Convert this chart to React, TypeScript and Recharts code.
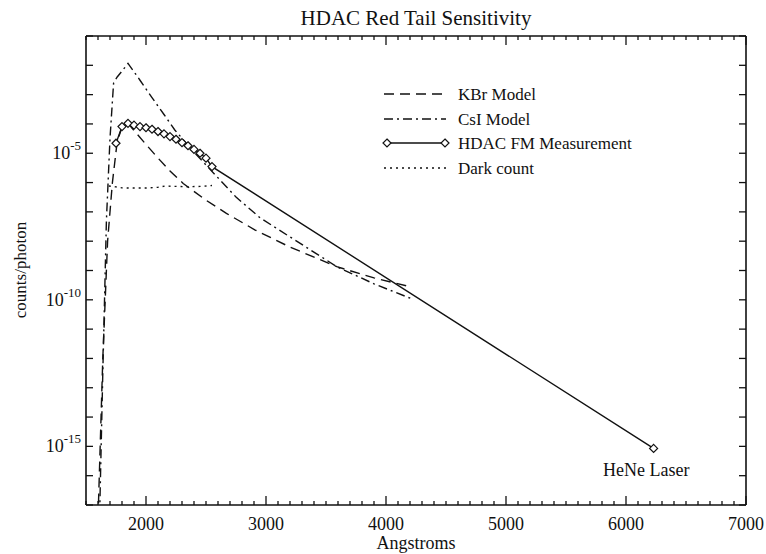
import { LineChart, Line, XAxis, YAxis } from 'recharts'

const FONT = '"Liberation Serif", "Times New Roman", serif'

// wavelength (Angstroms) and counts/photon for each series
const KBR_X = [1600, 1640, 1680, 1720, 1760, 1800, 1850, 1920, 2000, 2090, 2200, 2310, 2500, 2670, 2910, 3200, 3590, 3900, 4200]
const KBR_Y = [3.2e-18, 1e-12, 1e-8, 1e-6, 2.5e-5, 7.9e-5, 1.05e-4, 4.8e-5, 2.0e-5, 7.6e-6, 2.5e-6, 9.3e-7, 2.5e-7, 8.9e-8, 2.4e-8, 6.3e-9, 1.35e-9, 5.6e-10, 2.8e-10]

const CSI_X = [1610, 1640, 1670, 1700, 1730, 1760, 1800, 1850, 1950, 2050, 2150, 2240, 2400, 2590, 2750, 2950, 3200, 3590, 3900, 4210]
const CSI_Y = [1e-18, 3.2e-13, 5e-8, 3.2e-5, 2.5e-3, 4e-3, 6.3e-3, 1.17e-2, 3.1e-3, 7.9e-4, 2.1e-4, 6.2e-5, 1.1e-5, 1.6e-6, 3.2e-7, 6.3e-8, 1.4e-8, 1.35e-9, 3.5e-10, 1.1e-10]

const MEAS_X = [1750, 1800, 1850, 1900, 1950, 2000, 2050, 2100, 2150, 2200, 2250, 2300, 2350, 2400, 2450, 2500, 2550, 6230]
const MEAS_Y = [2.2e-5, 8.1e-5, 1.05e-4, 9.1e-5, 8.1e-5, 7.4e-5, 6.6e-5, 5.5e-5, 4.6e-5, 3.7e-5, 3.0e-5, 2.3e-5, 1.8e-5, 1.35e-5, 1.0e-5, 6.8e-6, 3.5e-6, 8.5e-16]

const DARK_X = [1690, 1750, 1800, 1900, 2000, 2100, 2160, 2250, 2350, 2450, 2550]
const DARK_Y = [7.6e-7, 7.1e-7, 6.6e-7, 6.5e-7, 6.5e-7, 6.9e-7, 7.6e-7, 7.4e-7, 7.2e-7, 7.4e-7, 7.9e-7]

const X_MAJOR = [2000, 3000, 4000, 5000, 6000, 7000]
const Y_LABELED = [-5, -10, -15]

const X_TICKS: number[] = []
for (let v = 1500; v <= 7000; v += 100) X_TICKS.push(v)
const Y_TICKS: number[] = []
for (let e = -17; e <= -1; e++) Y_TICKS.push(Math.pow(10, e))

const pts = (xs: number[], ys: number[]) => xs.map((x, i) => ({ x, y: ys[i] }))

const kbr = pts(KBR_X, KBR_Y)
const csi = pts(CSI_X, CSI_Y)
const meas = pts(MEAS_X, MEAS_Y)
const dark = pts(DARK_X, DARK_Y)

const INK = '#111'

function BottomTick({ x, y, payload }: any) {
  const major = X_MAJOR.includes(payload.value)
  return (
    <g>
      <line x1={x} x2={x} y1={y} y2={y - (major ? 9 : 4)} stroke={INK} strokeWidth={1.3} />
      {major && (
        <text x={x} y={y + 25} textAnchor="middle" fontSize={18} fontFamily={FONT} fill={INK}>
          {payload.value}
        </text>
      )}
    </g>
  )
}

function TopTick({ x, y, payload }: any) {
  const major = X_MAJOR.includes(payload.value)
  return <line x1={x} x2={x} y1={y} y2={y + (major ? 9 : 4)} stroke={INK} strokeWidth={1.3} />
}

function LeftTick({ x, y, payload }: any) {
  const e = Math.round(Math.log10(payload.value))
  return (
    <g>
      <line x1={x} x2={x + 7} y1={y} y2={y} stroke={INK} strokeWidth={1.3} />
      {Y_LABELED.includes(e) && (
        <text x={x - 5} y={y + 6} textAnchor="end" fontSize={18} fontFamily={FONT} fill={INK}>
          10<tspan dy={-9} fontSize={13}>{e}</tspan>
        </text>
      )}
    </g>
  )
}

function RightTick({ x, y }: any) {
  return <line x1={x} x2={x - 7} y1={y} y2={y} stroke={INK} strokeWidth={1.3} />
}

function Diamond({ cx, cy }: { cx: number; cy: number }) {
  const r = 4
  return (
    <path
      d={`M${cx} ${cy - r} L${cx + r} ${cy} L${cx} ${cy + r} L${cx - r} ${cy} Z`}
      fill="#fff"
      stroke={INK}
      strokeWidth={1.2}
    />
  )
}

const LEGEND = [
  { label: 'KBr Model', y: 94, dash: '10 6' },
  { label: 'CsI Model', y: 119, dash: '9 4 2 4' },
  { label: 'HDAC FM Measurement', y: 143, dash: '' },
  { label: 'Dark count', y: 168, dash: '2 4' },
]

export default function App() {
  return (
    <div style={{ position: 'absolute', left: 0, top: 0, width: 766, height: 554, background: '#fff' }}>
      <div style={{ position: 'absolute', left: 0, top: 0 }}>
        <LineChart width={766} height={554} margin={{ top: 35, right: 19, bottom: 19, left: 26 }}>
          <XAxis
            type="number"
            dataKey="x"
            domain={[1500, 7000]}
            ticks={X_TICKS}
            interval={0}
            tickSize={0}
            tickMargin={0}
            height={30}
            allowDataOverflow
            axisLine={{ stroke: INK, strokeWidth: 1.6 }}
            tick={<BottomTick />}
          />
          <XAxis
            xAxisId="top"
            orientation="top"
            type="number"
            dataKey="x"
            domain={[1500, 7000]}
            ticks={X_TICKS}
            interval={0}
            tickSize={0}
            tickMargin={0}
            height={1}
            allowDataOverflow
            axisLine={{ stroke: INK, strokeWidth: 1.6 }}
            tick={<TopTick />}
          />
          <YAxis
            type="number"
            scale="log"
            domain={[1e-17, 1e-1]}
            ticks={Y_TICKS}
            interval={0}
            tickSize={0}
            tickMargin={0}
            width={60}
            allowDataOverflow
            axisLine={{ stroke: INK, strokeWidth: 1.6 }}
            tick={<LeftTick />}
          />
          <YAxis
            yAxisId="right"
            orientation="right"
            type="number"
            scale="log"
            domain={[1e-17, 1e-1]}
            ticks={Y_TICKS}
            interval={0}
            tickSize={0}
            tickMargin={0}
            width={1}
            allowDataOverflow
            axisLine={{ stroke: INK, strokeWidth: 1.6 }}
            tick={<RightTick />}
          />
          <Line data={kbr} dataKey="y" type="linear" stroke={INK} strokeWidth={1.4} strokeDasharray="10 6" dot={false} isAnimationActive={false} />
          <Line data={csi} dataKey="y" type="linear" stroke={INK} strokeWidth={1.4} strokeDasharray="9 4 2 4" dot={false} isAnimationActive={false} />
          <Line data={dark} dataKey="y" type="linear" stroke={INK} strokeWidth={1.4} strokeDasharray="2 4" dot={false} isAnimationActive={false} />
          <Line
            data={meas}
            dataKey="y"
            type="linear"
            stroke={INK}
            strokeWidth={1.4}
            dot={(p: any) => <Diamond key={p.index} cx={p.cx} cy={p.cy} />}
            isAnimationActive={false}
          />
        </LineChart>
      </div>
      <svg width={766} height={554} style={{ position: 'absolute', left: 0, top: 0, pointerEvents: 'none' }} fontFamily={FONT} fill={INK}>
        <text x={416} y={25} textAnchor="middle" fontSize={21}>HDAC Red Tail Sensitivity</text>
        <text x={416} y={549} textAnchor="middle" fontSize={18}>Angstroms</text>
        <text x={26} y={270} textAnchor="middle" fontSize={17} transform="rotate(-90 26 270)">counts/photon</text>
        <text x={603} y={476} fontSize={18}>HeNe Laser</text>
        {LEGEND.map((l) => (
          <g key={l.label}>
            <line x1={384} x2={446} y1={l.y} y2={l.y} stroke={INK} strokeWidth={1.3} strokeDasharray={l.dash || undefined} />
            {l.dash === '' && (
              <>
                <Diamond cx={387} cy={l.y} />
                <Diamond cx={445} cy={l.y} />
              </>
            )}
            <text x={458} y={l.y + 6} fontSize={17}>{l.label}</text>
          </g>
        ))}
      </svg>
    </div>
  )
}
